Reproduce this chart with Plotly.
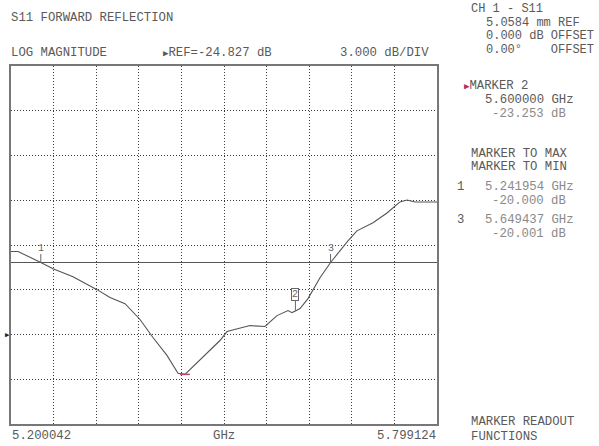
import plotly.graph_objects as go

# Sweep settings
f_start = 5.200042   # GHz
f_stop = 5.799124    # GHz
ref_db = -24.827     # reference level
db_per_div = 3.0
limit_db = -20.0

# Measured S11 log magnitude trace
freq_ghz = [5.200042, 5.2099, 5.241954, 5.2591, 5.2872, 5.3210, 5.3393, 5.3604,
            5.3815, 5.3997, 5.4194, 5.4349, 5.4447, 5.4658, 5.4939, 5.5038,
            5.5361, 5.5572, 5.5741, 5.5896, 5.5952, 5.6000, 5.6065, 5.6177,
            5.6346, 5.649437, 5.6739, 5.6866, 5.7091, 5.7288, 5.7471, 5.7569,
            5.7682, 5.799124]
s11_db = [-19.26, -19.26, -20.000, -20.42, -20.95, -21.82, -22.35, -22.76,
          -23.82, -25.03, -26.23, -27.43, -27.50, -26.50, -25.23, -24.63,
          -24.23, -24.29, -23.56, -23.22, -23.36, -23.253, -23.09, -22.42,
          -21.02, -20.001, -18.55, -17.88, -17.34, -16.68, -15.94, -15.81,
          -15.94, -15.94]

# Markers
marker_ids = ["1", "2", "3"]
marker_freq = [5.241954, 5.600000, 5.649437]
marker_db = [-20.000, -23.253, -20.001]
active_marker = "2"

# Channel info block
channel_title = "CH 1 - S11"
channel_lines = ["5.0584 mm REF",
                 "0.000 dB OFFSET",
                 "0.00°    OFFSET"]

W, H = 599, 446
L, R, T, B = 11, 437, 66, 424
FONT = "Liberation Mono, DejaVu Sans Mono, monospace"
TXT = "#5a5a5a"
TXT_LIGHT = "#8a8a8a"
FS = 12.3


def px(x):
    return (x - L) / (R - L)


def py(y):
    return (B - y) / (B - T)


fig = go.Figure()
fig.add_trace(go.Scatter(x=freq_ghz, y=s11_db, mode="lines",
                         line=dict(color="#555555", width=1.1),
                         hoverinfo="skip", showlegend=False))

# Minimum-point highlight
i_min = s11_db.index(min(s11_db))
fig.add_trace(go.Scatter(x=[freq_ghz[i_min]], y=[s11_db[i_min]], mode="markers",
                         marker=dict(symbol="line-ew", size=7,
                                     line=dict(color="#c04070", width=1.5)),
                         hoverinfo="skip", showlegend=False))

y_top = ref_db + 6 * db_per_div
y_bot = ref_db - 2 * db_per_div

grid = dict(showgrid=True, gridcolor="#3a3a3a", gridwidth=1, griddash="1px,2px",
            showticklabels=False, ticks="", zeroline=False,
            showline=True, mirror=True, linecolor="#777777", linewidth=2)

fig.update_layout(
    width=W, height=H,
    margin=dict(l=L, r=W - R, t=T, b=H - B),
    paper_bgcolor="white", plot_bgcolor="white",
    xaxis=dict(range=[f_start, f_stop], tick0=f_start,
               dtick=(f_stop - f_start) / 10, **grid),
    yaxis=dict(range=[y_bot, y_top], tick0=ref_db, dtick=db_per_div, **grid),
    font=dict(family=FONT, size=FS, color=TXT),
)

# Limit line
fig.add_shape(type="line", xref="paper", x0=0, x1=1, yref="y",
              y0=limit_db, y1=limit_db, line=dict(color="#555555", width=1.2))

ann = []


def text(s, x, y, anchor="left", color=TXT, size=FS):
    ann.append(dict(text=s, xref="paper", yref="paper", x=px(x), y=py(y),
                    xanchor=anchor, yanchor="middle", showarrow=False,
                    font=dict(family=FONT, size=size, color=color)))


# Header
text("S11 FORWARD REFLECTION", 9, 18)
text("LOG MAGNITUDE", 9, 53)
text(f"<span style='font-size:9px'>▶</span>REF={ref_db:.3f} dB", 161, 53)
text(f"{db_per_div:.3f} dB/DIV", 431, 53, anchor="right")

# Channel info
text(channel_title, 469, 9, size=12)
for k, s in enumerate(channel_lines):
    text(s, 484, 22.6 + 13.6 * k, size=12)

# Active marker readout
i_act = marker_ids.index(active_marker)
text(f"<span style='color:#b0305a;font-size:9px'>▶</span>MARKER {active_marker}", 462, 86)
text(f"{marker_freq[i_act]:.6f} GHz", 483, 100)
text(f"{marker_db[i_act]:.3f} dB", 568, 114, anchor="right", color=TXT_LIGHT)

text("MARKER TO MAX", 469, 154)
text("MARKER TO MIN", 469, 167)

rows = [(0, 187), (2, 220)]
for i, yy in rows:
    text(marker_ids[i], 455, yy)
    text(f"{marker_freq[i]:.6f} GHz", 483, yy, color=TXT_LIGHT)
    text(f"{marker_db[i]:.3f} dB", 568, yy + 13.5, anchor="right", color=TXT_LIGHT)

text("MARKER READOUT", 469, 422)
text("FUNCTIONS", 469, 437)

# X axis annotations
text(f"{f_start:.6f}", 10, 436)
text("GHz", 224, 436, anchor="center")
text(f"{f_stop:.6f}", 438, 436, anchor="right")

# Reference level pointer on the left edge
ann.append(dict(text="▶", xref="paper", yref="y", x=px(3), y=ref_db,
                xanchor="left", yanchor="middle", showarrow=False,
                font=dict(size=7, color="#222222")))

# Marker symbols on the trace
for mid, mf, md in zip(marker_ids, marker_freq, marker_db):
    active = mid == active_marker
    ann.append(dict(text=mid, x=mf, y=md, xref="x", yref="y",
                    showarrow=True, arrowhead=0, arrowwidth=1,
                    arrowcolor="#666666", ax=0, ay=-17 if active else -14,
                    font=dict(family=FONT, size=10, color="#666666"),
                    bordercolor="#666666" if active else None,
                    borderwidth=1 if active else 0, borderpad=0,
                    bgcolor="white" if active else None))

fig.update_layout(annotations=ann)
fig.write_html("out.html")
